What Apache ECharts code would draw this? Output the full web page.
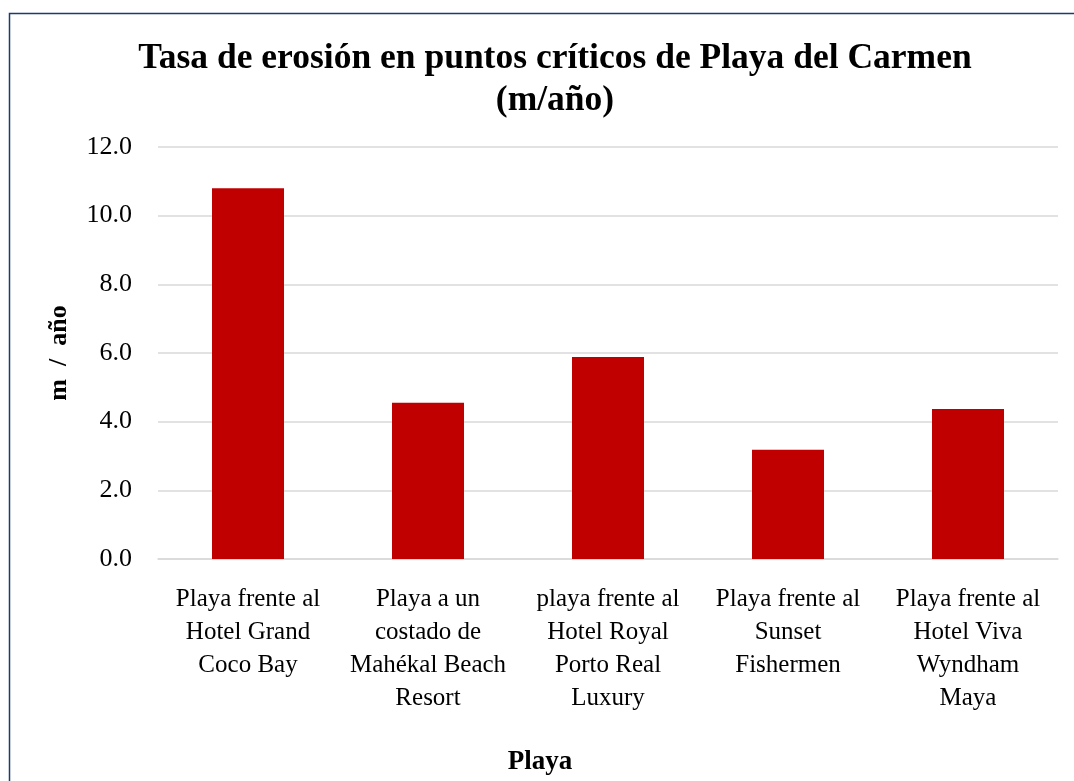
<!DOCTYPE html>
<html>
<head>
<meta charset="utf-8">
<script src="https://cdn.jsdelivr.net/npm/echarts@6/dist/echarts.min.js"></script>
<style>
  html, body { margin: 0; padding: 0; background: #fff; }
  #main { width: 1074px; height: 781px; }
</style>
</head>
<body>
<div id="main"></div>
<script>
// 数据
var categories = [
	'Playa frente al\nHotel Grand\nCoco Bay',
	'Playa a un\ncostado de\nMahékal Beach\nResort',
	'playa frente al\nHotel Royal\nPorto Real\nLuxury',
	'Playa frente al\nSunset\nFishermen',
	'Playa frente al\nHotel Viva\nWyndham\nMaya'
];
var erosionValues = [10.8, 4.55, 5.88, 3.18, 4.37];
var yTicks = [0, 2, 4, 6, 8, 10, 12];

var myChart = echarts.init(document.getElementById('main'));
var serif = '"Liberation Serif", "DejaVu Serif", serif';

var option = {
	backgroundColor: '#ffffff',
	textStyle: { fontFamily: serif },
	animation: false,
	title: {
		text: 'Tasa de erosión en puntos críticos de Playa del Carmen\n(m/año)',
		left: 550,
		top: 33,
		textAlign: 'center',
		textStyle: {
			fontFamily: serif,
			fontSize: 35.5,
			fontWeight: 'bold',
			color: '#000',
			lineHeight: 42
		}
	},
	// 外框
	graphic: [{
		type: 'rect',
		shape: { x: 9.5, y: 13.5, width: 1200, height: 900 },
		style: { fill: 'none', stroke: '#1f3a6e', lineWidth: 1.5 }
	}],
	grid: {
		left: 158,
		right: 16,
		top: 147,
		bottom: 221
	},
	xAxis: {
		type: 'category',
		data: categories,
		name: 'Playa',
		nameLocation: 'middle',
		nameGap: 190,
		nameTextStyle: {
			fontFamily: serif, fontSize: 27, fontWeight: 'bold', color: '#000',
			padding: [0, 136, 0, 0]
		},
		axisLine: { lineStyle: { color: '#d9d9d9', width: 1.5 } },
		axisTick: { show: false },
		axisLabel: {
			interval: 0,
			margin: 24,
			fontFamily: serif,
			fontSize: 25,
			lineHeight: 33,
			color: '#000'
		}
	},
	yAxis: {
		type: 'value',
		min: yTicks[0],
		max: yTicks[yTicks.length - 1],
		interval: 2,
		name: 'm  /  año',
		nameLocation: 'middle',
		nameGap: 86,
		nameTextStyle: { fontFamily: serif, fontSize: 26, fontWeight: 'bold', color: '#000' },
		axisLine: { show: false },
		axisTick: { show: false },
		axisLabel: {
			margin: 26,
			fontFamily: serif,
			fontSize: 26,
			color: '#000',
			formatter: function (v) { return v.toFixed(1); }
		},
		splitLine: { lineStyle: { color: '#d9d9d9', width: 1.5 } }
	},
	series: [{
		type: 'bar',
		data: erosionValues,
		barWidth: '40%',
		itemStyle: { color: '#c00000' }
	}]
};

myChart.setOption(option);
</script>
</body>
</html>
